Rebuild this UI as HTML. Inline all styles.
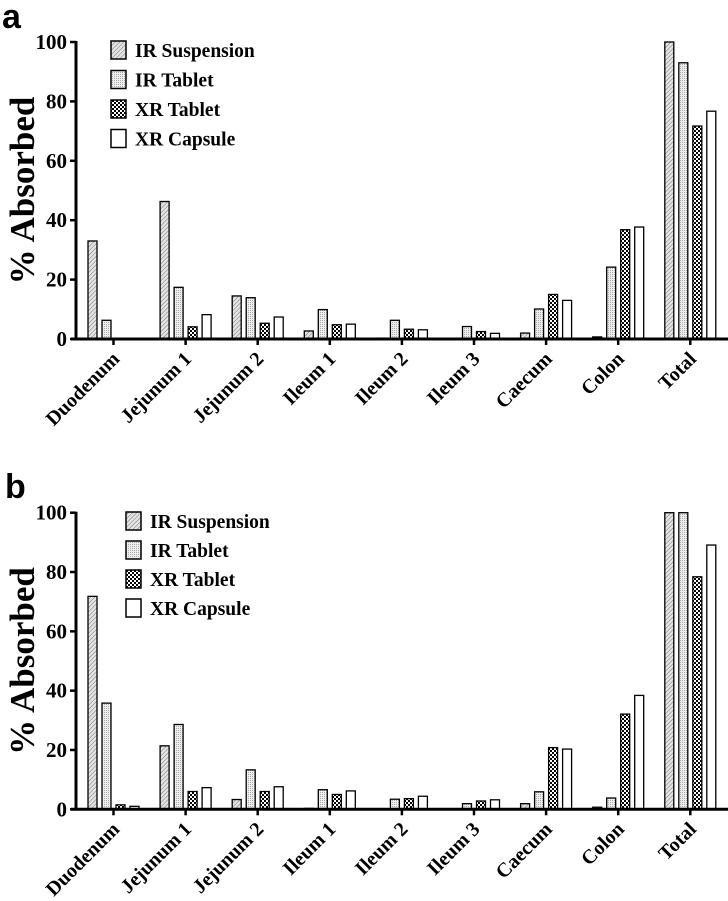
<!DOCTYPE html>
<html><head><meta charset="utf-8"><style>
html,body{margin:0;padding:0;background:#fff;}
svg{display:block;}
text{font-family:"Liberation Serif",serif;font-weight:bold;fill:#000;}
</style></head><body>
<svg id="chart" width="728" height="901" viewBox="0 0 728 901" xmlns="http://www.w3.org/2000/svg">
<defs>
<pattern id="hatch" patternUnits="userSpaceOnUse" width="3" height="3" patternTransform="rotate(45)"><rect width="3" height="3" fill="#e4e4e4"/><line x1="0" y1="0" x2="0" y2="3" stroke="#777" stroke-width="1"/></pattern>
<pattern id="dots" patternUnits="userSpaceOnUse" width="2" height="2"><rect width="2" height="2" fill="#eee"/><rect width="1" height="1" fill="#aaa"/></pattern>
<pattern id="check" patternUnits="userSpaceOnUse" width="4" height="4"><rect width="4" height="4" fill="#fff"/><rect width="2" height="2" fill="#000"/><rect x="2" y="2" width="2" height="2" fill="#000"/></pattern>
</defs>
</svg>
<script>
const categories = ["Duodenum","Jejunum 1","Jejunum 2","Ileum 1","Ileum 2","Ileum 3","Caecum","Colon","Total"];
const seriesNames = ["IR Suspension","IR Tablet","XR Tablet","XR Capsule"];
const yTicks = [0,20,40,60,80,100];
const a_irSusp = [33,46.3,14.5,2.7,0.3,0,2.0,0.7,100];
const a_irTab = [6.3,17.4,13.9,9.9,6.3,4.2,10.1,24.2,93];
const a_xrTab = [0,4.1,5.3,4.8,3.3,2.5,15.0,36.8,71.7];
const a_xrCap = [0,8.2,7.4,5.0,3.1,1.9,13.0,37.7,76.7];
const b_irSusp = [71.8,21.4,3.3,0.3,0,0,1.9,0.7,100];
const b_irTab = [35.8,28.6,13.3,6.6,3.4,1.9,5.9,3.8,100];
const b_xrTab = [1.5,6.0,6.0,5.0,3.6,2.8,20.8,32.1,78.4];
const b_xrCap = [1.0,7.3,7.6,6.2,4.4,3.2,20.3,38.4,89.1];

const fills = ["url(#hatch)","url(#dots)","url(#check)","#fff"];
const svg = document.getElementById('chart');
const NS = "http://www.w3.org/2000/svg";
function mk(tag, attrs, parent){
  const e = document.createElementNS(NS, tag);
  for (const k in attrs) e.setAttribute(k, attrs[k]);
  (parent||svg).appendChild(e);
  return e;
}
function panel(id, letter, y0, y100, letterY, legendX, legendY, series){
  const g = mk('g', {});
  
  
  const xAxisL = 76, x0 = 113.5, step = 72.1;
  const yScale = v => y0 + (y100 - y0) * v / 100;
  const xScale = i => x0 + i * step;
  const lt = mk('text', {x: letter==='a'?2:5, y: letterY, 'font-size': 34}, g);
  lt.style.fontFamily = '"Liberation Sans",sans-serif';
  lt.textContent = letter;
  
  
  const yt = mk('text', {x: 0, y: 0, 'font-size': 35, 'text-anchor': 'middle', transform: `translate(34,${(y0+y100)/2}) rotate(-90)`}, g);
  yt.textContent = '% Absorbed';
  
  
  for (let s = 0; s < 4; s++){
    series[s].forEach((v, i) => {
      if (v <= 0) return;
      const bx = xScale(i) - 25.5 + s * 14;
      const top = yScale(v);
      const r = mk('rect', {x: bx, y: top, width: 9, height: Math.max(y0 - top, 0.8), fill: fills[s], stroke: '#000', 'stroke-width': 1.3}, g);
      
      
    });
  }
  const ya = mk('line', {x1: xAxisL, y1: y100 - 1, x2: xAxisL, y2: y0 + 1, stroke: '#000', 'stroke-width': 3}, g);
  
  
  const xa = mk('line', {x1: xAxisL - 5, y1: y0, x2: 728, y2: y0, stroke: '#000', 'stroke-width': 3}, g);
  
  
  yTicks.forEach(t => {
    const y = yScale(t);
    mk('line', {x1: xAxisL - 6, y1: y, x2: xAxisL, y2: y, stroke: '#000', 'stroke-width': 2.5}, g);
    const tl = mk('text', {x: 67, y: y + 7, 'font-size': 21, 'text-anchor': 'end'}, g);
    tl.textContent = t;
    
    
  });
  categories.forEach((c, i) => {
    const x = xScale(i);
    mk('line', {x1: x, y1: y0, x2: x, y2: y0 + 6, stroke: '#000', 'stroke-width': 2.5}, g);
    const cl = mk('text', {x: 0, y: 0, 'font-size': 20, 'text-anchor': 'end', transform: `translate(${x+7},${y0+21}) rotate(-45)`}, g);
    cl.textContent = c;
    
    
  });
  seriesNames.forEach((n, s) => {
    const ly = legendY + s * (id==='a'?29.5:29);
    const r = mk('rect', {x: legendX, y: ly, width: 15, height: 18, fill: fills[s], stroke: '#000', 'stroke-width': 1.5}, g);
    
    
    const t = mk('text', {x: legendX + 24, y: ly + 16, 'font-size': 19.5}, g);
    t.textContent = n;
    
    
  });
}
panel('a', 'a', 339, 42, 28, 111, 41, [a_irSusp, a_irTab, a_xrTab, a_xrCap]);
panel('b', 'b', 809.3, 512.7, 498, 126, 512, [b_irSusp, b_irTab, b_xrTab, b_xrCap]);
</script>
</body></html>
